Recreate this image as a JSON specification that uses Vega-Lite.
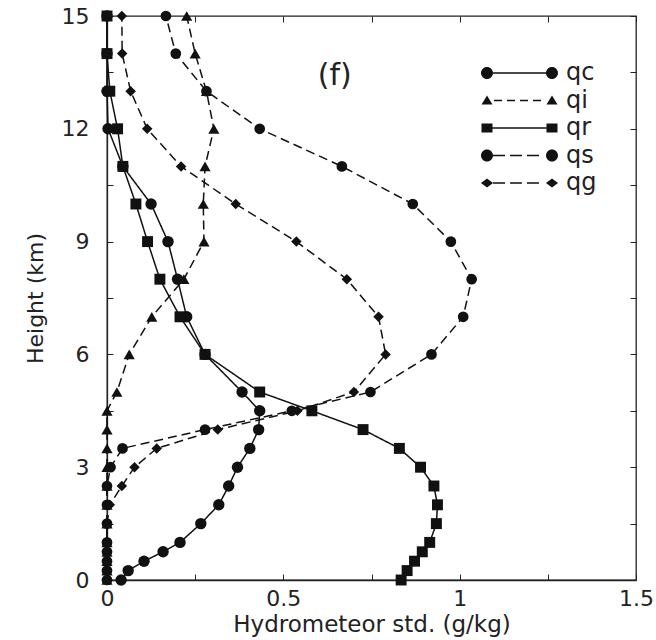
{
  "$schema": "https://vega.github.io/schema/vega-lite/v6.json",
  "width": 529,
  "height": 564,
  "autosize": {"type": "none"},
  "padding": {"left": 107, "top": 16, "right": 20, "bottom": 60},
  "config": {
    "font": "DejaVu Sans",
    "view": {"stroke": "#222", "strokeWidth": 1.3},
    "axis": {"grid": false, "domainColor": "#222", "tickColor": "#222", "labelColor": "#222", "titleColor": "#222", "titleFontWeight": "normal", "labelFlush": false, "labelOverlap": false, "tickWidth": 1, "domainWidth": 1.3}
  },
  "data": {
    "values": [
      {"s":"qc","h":0,"v":0.04},{"s":"qc","h":0.25,"v":0.06},{"s":"qc","h":0.5,"v":0.105},{"s":"qc","h":0.75,"v":0.159},{"s":"qc","h":1,"v":0.207},{"s":"qc","h":1.5,"v":0.266},{"s":"qc","h":2,"v":0.317},{"s":"qc","h":2.5,"v":0.345},{"s":"qc","h":3,"v":0.37},{"s":"qc","h":3.5,"v":0.405},{"s":"qc","h":4,"v":0.43},{"s":"qc","h":4.5,"v":0.433},{"s":"qc","h":5,"v":0.383},{"s":"qc","h":6,"v":0.278},{"s":"qc","h":7,"v":0.226},{"s":"qc","h":8,"v":0.2},{"s":"qc","h":9,"v":0.173},{"s":"qc","h":10,"v":0.125},{"s":"qc","h":11,"v":0.045},{"s":"qc","h":12,"v":0.003},{"s":"qc","h":13,"v":0},{"s":"qc","h":14,"v":0},{"s":"qc","h":15,"v":0},
      {"s":"qi","h":0,"v":0},{"s":"qi","h":0.25,"v":0},{"s":"qi","h":0.5,"v":0},{"s":"qi","h":0.75,"v":0},{"s":"qi","h":1,"v":0},{"s":"qi","h":1.5,"v":0},{"s":"qi","h":2,"v":0},{"s":"qi","h":2.5,"v":0},{"s":"qi","h":3,"v":0},{"s":"qi","h":3.5,"v":0},{"s":"qi","h":4,"v":0},{"s":"qi","h":4.5,"v":0},{"s":"qi","h":5,"v":0.028},{"s":"qi","h":6,"v":0.063},{"s":"qi","h":7,"v":0.127},{"s":"qi","h":8,"v":0.218},{"s":"qi","h":9,"v":0.275},{"s":"qi","h":10,"v":0.273},{"s":"qi","h":11,"v":0.278},{"s":"qi","h":12,"v":0.303},{"s":"qi","h":13,"v":0.282},{"s":"qi","h":14,"v":0.25},{"s":"qi","h":15,"v":0.226},
      {"s":"qr","h":0,"v":0.834},{"s":"qr","h":0.25,"v":0.851},{"s":"qr","h":0.5,"v":0.872},{"s":"qr","h":0.75,"v":0.894},{"s":"qr","h":1,"v":0.915},{"s":"qr","h":1.5,"v":0.934},{"s":"qr","h":2,"v":0.937},{"s":"qr","h":2.5,"v":0.927},{"s":"qr","h":3,"v":0.889},{"s":"qr","h":3.5,"v":0.829},{"s":"qr","h":4,"v":0.726},{"s":"qr","h":4.5,"v":0.581},{"s":"qr","h":5,"v":0.433},{"s":"qr","h":6,"v":0.278},{"s":"qr","h":7,"v":0.207},{"s":"qr","h":8,"v":0.15},{"s":"qr","h":9,"v":0.115},{"s":"qr","h":10,"v":0.082},{"s":"qr","h":11,"v":0.045},{"s":"qr","h":12,"v":0.03},{"s":"qr","h":13,"v":0.008},{"s":"qr","h":14,"v":0},{"s":"qr","h":15,"v":0},
      {"s":"qs","h":0,"v":0},{"s":"qs","h":0.25,"v":0},{"s":"qs","h":0.5,"v":0},{"s":"qs","h":0.75,"v":0},{"s":"qs","h":1,"v":0},{"s":"qs","h":1.5,"v":0},{"s":"qs","h":2,"v":0},{"s":"qs","h":2.5,"v":0},{"s":"qs","h":3,"v":0.01},{"s":"qs","h":3.5,"v":0.044},{"s":"qs","h":4,"v":0.278},{"s":"qs","h":4.5,"v":0.524},{"s":"qs","h":5,"v":0.747},{"s":"qs","h":6,"v":0.92},{"s":"qs","h":7,"v":1.01},{"s":"qs","h":8,"v":1.034},{"s":"qs","h":9,"v":0.975},{"s":"qs","h":10,"v":0.867},{"s":"qs","h":11,"v":0.666},{"s":"qs","h":12,"v":0.433},{"s":"qs","h":13,"v":0.282},{"s":"qs","h":14,"v":0.195},{"s":"qs","h":15,"v":0.167},
      {"s":"qg","h":0,"v":0},{"s":"qg","h":0.25,"v":0},{"s":"qg","h":0.5,"v":0},{"s":"qg","h":0.75,"v":0},{"s":"qg","h":1,"v":0},{"s":"qg","h":1.5,"v":0},{"s":"qg","h":2,"v":0.008},{"s":"qg","h":2.5,"v":0.042},{"s":"qg","h":3,"v":0.078},{"s":"qg","h":3.5,"v":0.141},{"s":"qg","h":4,"v":0.314},{"s":"qg","h":4.5,"v":0.54},{"s":"qg","h":5,"v":0.7},{"s":"qg","h":6,"v":0.79},{"s":"qg","h":7,"v":0.77},{"s":"qg","h":8,"v":0.68},{"s":"qg","h":9,"v":0.537},{"s":"qg","h":10,"v":0.365},{"s":"qg","h":11,"v":0.21},{"s":"qg","h":12,"v":0.114},{"s":"qg","h":13,"v":0.067},{"s":"qg","h":14,"v":0.043},{"s":"qg","h":15,"v":0.042}
    ]
  },
  "layer": [
    {
      "mark": {"type": "line", "strokeWidth": 1.5, "color": "#111"},
      "encoding": {
        "x": {"field": "v", "type": "quantitative", "scale": {"domain": [0, 1.5], "nice": false},
          "axis": {"orient": "bottom", "values": [0, 0.25, 0.5, 0.75, 1, 1.25, 1.5], "labelExpr": "datum.value % 0.5 === 0 ? '' + datum.value : ''", "tickSize": -6, "labelPadding": 14, "labelFontSize": 22, "title": "Hydrometeor std. (g/kg)", "titleFontSize": 23, "titlePadding": 4}},
        "y": {"field": "h", "type": "quantitative", "scale": {"domain": [0, 15], "nice": false},
          "axis": {"orient": "left", "values": [0, 1.5, 3, 4.5, 6, 7.5, 9, 10.5, 12, 13.5, 15], "labelExpr": "datum.value % 3 === 0 ? '' + datum.value : ''", "tickSize": -6, "labelPadding": 24, "labelFontSize": 22, "title": "Height (km)", "titleFontSize": 22, "titlePadding": 14}},
        "order": {"field": "h", "type": "quantitative"},
        "strokeDash": {"field": "s", "type": "nominal",
          "scale": {"domain": ["qc", "qi", "qr", "qs", "qg"], "range": [[1, 0], [9, 5], [1, 0], [9, 5], [9, 5]]}, "legend": null}
      }
    },
    {
      "mark": {"type": "point", "filled": true, "opacity": 1, "color": "#111", "strokeWidth": 0},
      "encoding": {
        "x": {"field": "v", "type": "quantitative", "axis": {"orient": "top", "values": [0, 0.25, 0.5, 0.75, 1, 1.25, 1.5], "labels": false, "title": null, "tickSize": -6, "domain": false}},
        "y": {"field": "h", "type": "quantitative", "axis": {"orient": "right", "values": [0, 1.5, 3, 4.5, 6, 7.5, 9, 10.5, 12, 13.5, 15], "labels": false, "title": null, "tickSize": -6, "domain": false}},
        "shape": {"field": "s", "type": "nominal", "scale": {"domain": ["qc", "qi", "qr", "qs", "qg"], "range": ["circle", "triangle-up", "square", "circle", "diamond"]}, "legend": null},
        "size": {"field": "s", "type": "nominal", "scale": {"domain": ["qc", "qi", "qr", "qs", "qg"], "range": [130, 110, 100, 130, 85]}, "legend": null}
      }
    },
    {
      "transform": [{"filter": "false"}],
      "mark": {"type": "point", "fill": "#111", "stroke": "#111", "strokeWidth": 1, "opacity": 1},
      "encoding": {
        "x": {"field": "v", "type": "quantitative", "axis": null},
        "y": {"field": "h", "type": "quantitative", "axis": null},
        "shape": {"field": "s", "type": "nominal",
          "scale": {"domain": ["qc", "qi", "qr", "qs", "qg"], "range": [
            "M-59,-0.75L-6,-0.75L-6,0.75L-59,0.75ZM-71,0A6,6,0,1,1,-59,0A6,6,0,1,1,-71,0ZM-6,0A6,6,0,1,1,6,0A6,6,0,1,1,-6,0Z",
            "M-58,-0.75L-50,-0.75L-50,0.75L-58,0.75ZM-45,-0.75L-37,-0.75L-37,0.75L-45,0.75ZM-32,-0.75L-24,-0.75L-24,0.75L-32,0.75ZM-19,-0.75L-11,-0.75L-11,0.75L-19,0.75ZM-65,-5L-59.5,4L-70.5,4ZM0,-5L5.5,4L-5.5,4Z",
            "M-59.5,-0.75L-5.5,-0.75L-5.5,0.75L-59.5,0.75ZM-70.5,-4.5L-59.5,-4.5L-59.5,4.5L-70.5,4.5ZM-5.5,-4.5L5.5,-4.5L5.5,4.5L-5.5,4.5Z",
            "M-59,-0.75L-47,-0.75L-47,0.75L-59,0.75ZM-42,-0.75L-30,-0.75L-30,0.75L-42,0.75ZM-25,-0.75L-13,-0.75L-13,0.75L-25,0.75ZM-71,0A6,6,0,1,1,-59,0A6,6,0,1,1,-71,0ZM-6,0A6,6,0,1,1,6,0A6,6,0,1,1,-6,0Z",
            "M-59,-0.75L-47,-0.75L-47,0.75L-59,0.75ZM-42,-0.75L-30,-0.75L-30,0.75L-42,0.75ZM-25,-0.75L-13,-0.75L-13,0.75L-25,0.75ZM-71,0L-65,-4.5L-59,0L-65,4.5ZM-6,0L0,-4.5L6,0L0,4.5Z"
          ]},
          "legend": {
            "orient": "none", "legendX": 433, "legendY": 45, "title": null, "padding": 0,
            "labelFont": "DejaVu Sans", "labelFontSize": 24, "labelColor": "#222", "labelOffset": 2, "labelBaseline": "middle",
            "symbolSize": 4, "rowPadding": 3.5, "symbolOpacity": 1, "symbolStrokeWidth": 1,
            "symbolFillColor": "#111", "symbolStrokeColor": "#111"
          }
        }
      }
    },
    {
      "data": {"values": [{"label": "(f)"}]},
      "mark": {"type": "text", "font": "DejaVu Sans", "fontSize": 30, "color": "#222", "align": "center", "baseline": "middle"},
      "encoding": {
        "x": {"datum": 0.646, "type": "quantitative", "axis": null},
        "y": {"datum": 13.4, "type": "quantitative", "axis": null},
        "text": {"field": "label"}
      }
    }
  ],
  "resolve": {"axis": {"x": "independent", "y": "independent"}, "scale": {"shape": "independent"}}
}
